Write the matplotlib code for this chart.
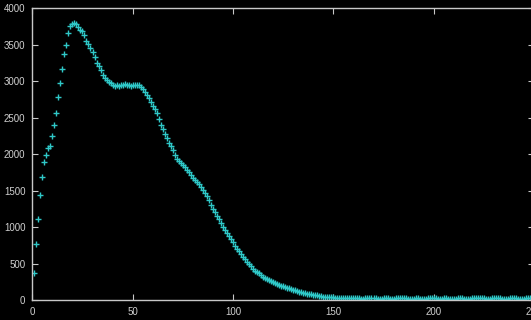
import matplotlib
matplotlib.use("Agg")
import matplotlib.pyplot as plt
import numpy as np

# counts, one point per x step
rise = [375, 770, 1120, 1440, 1690, 1895, 1990, 2090, 2115, 2245,
        2395, 2565, 2780, 2970, 3160, 3370, 3490, 3660, 3750, 3785,
        3790, 3785, 3740]
fall1 = [3705, 3690, 3630, 3550, 3505, 3450, 3395, 3330, 3250, 3200,
         3150, 3090, 3045, 3010, 2985, 2970, 2950, 2940, 2945, 2940,
         2945, 2950, 2955, 2950, 2945, 2940, 2945, 2950, 2950, 2945,
         2925]
fall2 = [2895, 2855, 2815, 2765, 2715, 2665, 2620, 2560, 2480, 2405,
         2340, 2280, 2220, 2160, 2110, 2055, 1990, 1935, 1905, 1880,
         1855, 1825, 1790, 1755, 1710, 1670, 1650, 1615, 1590, 1555,
         1515, 1470, 1425, 1375, 1310, 1255, 1205, 1160, 1110, 1060,
         1010, 960, 920, 880, 840, 795, 750, 710, 670, 635,
         600, 565, 530, 500, 465, 435, 410, 390, 370, 345,
         325, 305, 290, 275, 260, 248, 235, 222, 212, 202,
         193, 185, 176, 167, 158, 148, 140, 130, 122, 112,
         104, 97, 91, 87, 83, 78, 74, 69, 63, 57,
         53, 50, 47, 46, 44, 42, 40, 38, 37, 36,
         35, 34, 34, 33]
tail = [30, 28, 32, 35, 30, 27, 25, 28, 30, 33,
        36, 32, 28, 25, 24, 27, 30, 32, 29, 26,
        25, 27, 30, 34, 37, 35, 31, 28, 26, 25,
        24, 26, 28, 30, 27, 25, 24, 26, 29, 32,
        34, 31, 28, 26, 25, 27, 30, 28, 26, 24,
        23, 25, 27, 30, 33, 30, 27, 25, 24, 26,
        28, 31, 34, 36, 33, 30, 28, 26, 25, 27,
        29, 31, 33, 30, 28, 26, 25, 24, 26, 28,
        30, 32, 29, 27, 25, 24, 26, 28, 30, 29]

counts = np.array(rise + fall1 + fall2 + tail)
xs = np.arange(1, len(counts) + 1)

fig = plt.figure(figsize=(5.31, 3.2), dpi=100, facecolor="black")
# right edge of the frame sits just past the picture, as in the reference
ax = fig.add_axes([0.0608, 0.061, 0.945, 0.914])
ax.set_facecolor("black")

ax.plot(xs, counts, "+", color="#2fc8c8", markersize=5, markeredgewidth=1.0)

ax.set_xlim(0, 250)
ax.set_ylim(0, 4000)
ax.set_xticks(np.arange(0, 251, 50))
ax.set_yticks(np.arange(0, 4001, 500))

for s in ax.spines.values():
    s.set_color("#c8c8c8")
    s.set_linewidth(1.0)

ax.tick_params(direction="in", length=4, width=0.8, color="#c8c8c8",
               labelcolor="#d0d0d0", labelsize=7, top=True, right=True,
               pad=5)
for lab in ax.get_xticklabels() + ax.get_yticklabels():
    lab.set_family("Liberation Sans")

fig.savefig("out.png", dpi=100, facecolor="black")
